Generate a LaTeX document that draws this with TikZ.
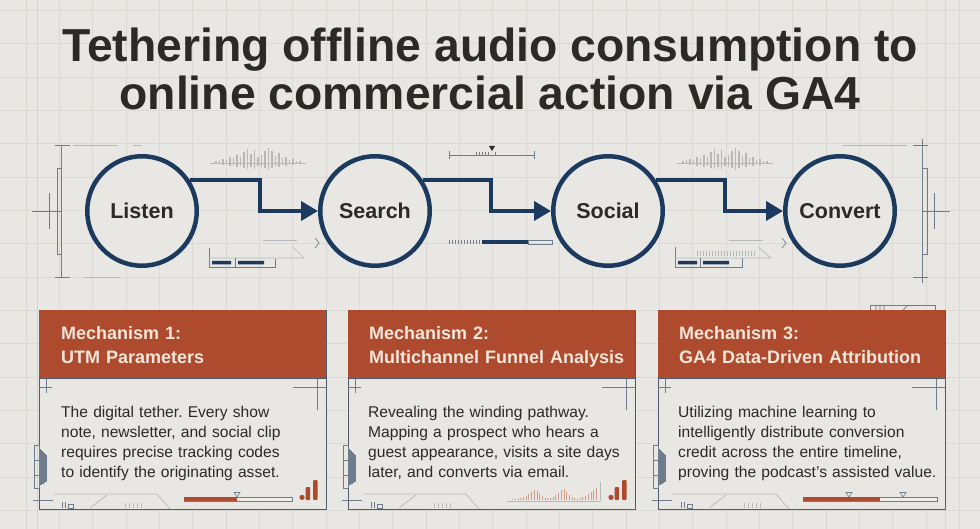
\documentclass[tikz,border=0pt]{standalone}
\usepackage{fontspec}
\setmainfont{Liberation Sans}
\usetikzlibrary{arrows.meta,calc}
\frenchspacing
\definecolor{bg}{HTML}{E8E7E3}
\definecolor{gridc}{HTML}{DAD9D4}
\definecolor{navy}{HTML}{1C3A5E}
\definecolor{ink}{HTML}{2B2A27}
\definecolor{rust}{HTML}{AE4A2D}
\definecolor{headink}{HTML}{F4E6DA}
\definecolor{cardline}{HTML}{4F5B6B}
\definecolor{decoc}{HTML}{6E7C8C}
\definecolor{decol}{HTML}{B4B9BE}
\definecolor{wavec}{HTML}{B7B7B4}
\definecolor{rustlight}{HTML}{D39A86}
\tikzset{
  gridline/.style={draw=gridc, line width=0.6pt},
  deco/.style={draw=decoc, line width=0.7pt},
  decofaint/.style={draw=decol, line width=0.7pt},
  wavebar/.style={draw=wavec, line width=1.3pt},
  stage/.style={circle, draw=navy, line width=4.5pt, fill=bg, minimum size=109.5pt,
    inner sep=0pt, font=\bfseries\fontsize{21.5}{24}\selectfont, text=ink},
  flow/.style={draw=navy, line width=4pt, -{Triangle[length=17pt,width=19pt]}},
  cardbox/.style={draw=cardline, line width=0.9pt, fill=bg, minimum width=287pt,
    minimum height=199pt, inner sep=0pt, anchor=north west},
  cardhead/.style={fill=rust, minimum width=287pt, minimum height=68pt, inner sep=0pt,
    anchor=north west},
  headtxt/.style={anchor=base west, inner sep=0pt, text width=275pt, align=left,
    text=headink, font=\bfseries\fontsize{18}{23.5}\selectfont},
  bodytxt/.style={anchor=base west, inner sep=0pt, text width=275pt, align=left,
    text=ink, font=\fontsize{15.6}{20}\selectfont},
  titletxt/.style={anchor=base, inner sep=0pt, text=ink,
    font=\bfseries\fontsize{46.3}{50}\selectfont},
  carddeco/.pic={
    % inner crosshairs
    \draw[deco] (0,77) -- (13,77) (7,69) -- (7,83);
    \draw[deco] (254,77) -- (287,77) (278,69) -- (278,100);
    % left bracket with hatch
    \draw[deco] (-5,135) rectangle (0,178);
    \draw[deco] (-5,150) -- (0,150) (-5,165) -- (0,165);
    \foreach \i in {1,...,7} \draw[decoc, line width=0.5pt] (\i,{138+\i}) -- (\i,{176-\i*0.6});
    % bottom-left crosshair and doodles
    \draw[deco] (-6,190) -- (14,190);
    \draw[decofaint] (15,184) -- (118,184) -- (131,199);
    \draw[decofaint] (51,198) -- (68,185);
    \draw[deco] (23,192) -- (23,198) (26,192) -- (26,198) (29,194) rectangle (34,198);
    \foreach \x in {86,90,94,98,102} \draw[decofaint] (\x,193) -- (\x,198);
  },
  baricon/.pic={
    \fill[rust] (0,-2.6) circle (2.6);
    \fill[rust, rounded corners=1pt] (3.5,-13) rectangle (8,0);
    \fill[rust, rounded corners=1pt] (11,-20) rectangle (15.5,0);
  },
  wave/.pic={
    \draw[decofaint] (-48,0) -- (48,0);
    \foreach \h [count=\i] in {2,3,4,3,6,5,8,6,11,14,9,13,6,8,12,15,12,7,10,5,6,3,4,2,2}
      \draw[wavebar] ({-45.5+\i*3.5},{-\h}) -- ({-45.5+\i*3.5},{0.45*\h});
  },
}
\begin{document}
\begin{tikzpicture}[x=1pt,y=-1pt]
\fill[bg] (0,0) rectangle (980,529);
\useasboundingbox (0,0) rectangle (980,529);
% background grid
\foreach \k in {0,...,29} \draw[gridline] ({26+33.33*\k},0) -- ({26+33.33*\k},529);
\foreach \k in {0,...,15} \draw[gridline] (0,{10.3+33.33*\k}) -- (980,{10.3+33.33*\k});
\draw[gridc!85!black!60, line width=0.6pt] (37,0) -- (37,529) (945,0) -- (945,529);

% title
\node[titletxt] (t1) at (490,62) {Tethering offline audio consumption to};
\node[titletxt] (t2) at (490,110) {online commercial action via GA4};

% flow decorations: left assembly
\draw[deco] (61,145) -- (61,277) (55,145) -- (70,145) (55,277) -- (70,277);
\draw[deco] (57,168) rectangle (61,254);
\draw[deco] (32,211) -- (62,211) (49,193) -- (49,229);
\draw[decofaint] (73,145) -- (118,145) (133,145) -- (142,145) (84,277) -- (120,277);
% right assembly
\draw[deco] (922,139) -- (922,283) (913,145) -- (928,145) (913,277) -- (928,277);
\draw[deco] (922,168) rectangle (927,254);
\draw[deco] (922,211) -- (950,211) (934,193) -- (934,229);
\draw[decofaint] (842,145) -- (907,145);
% waveforms
\pic at (258,163) {wave};
\pic at (725,163) {wave};
% below Listen -> Search
\draw[deco] (209,248) -- (209,267) -- (275,267) -- (275,259);
\draw[decofaint] (209,258) -- (304,258) -- (293,247);
\draw[deco] (235,258) -- (235,267);
\fill[navy] (212,261) rectangle (231,264.5) (238,261) rectangle (264,264.5);
\draw[decofaint] (263,240) -- (297,240);
\draw[deco] (315,238) -- (319,243) -- (315,248);
% ruler above Search -> Social
\draw[deco] (449,155) -- (534,155) (449,151) -- (449,159) (534,151) -- (534,159);
\foreach \x in {476,479,482,485,488,495} \draw[deco] (\x,152) -- (\x,155);
\fill[ink] (489,146) -- (495,146) -- (492,151) -- cycle;
% bar below Search -> Social
\foreach \x in {449,452,...,479} \draw[decoc, line width=0.5pt] (\x,240) -- (\x,244);
\fill[navy] (482,240) rectangle (528,244);
\draw[deco] (528,240) rectangle (552,244);
% below Social -> Convert
\draw[deco] (675,247) -- (675,267) -- (742,267) -- (742,258);
\draw[decofaint] (675,258) -- (771,258) -- (758,247);
\draw[deco] (700,258) -- (700,267);
\foreach \x in {697,700,...,754} \draw[decofaint] (\x,251) -- (\x,256);
\fill[navy] (678,261) rectangle (697,264.5) (703,261) rectangle (729,264.5);
\draw[decofaint] (729,240) -- (763,240);
\draw[deco] (782,238) -- (786,243) -- (782,248);

% stages
\node[stage] (L) at (142,211) {Listen};
\node[stage] (S) at (375,211) {Search};
\node[stage] (So) at (608,211) {Social};
\node[stage] (C) at (840,211) {Convert};
\coordinate (k1) at (260,211);
\coordinate (k2) at (491,211);
\coordinate (k3) at (725,211);
\draw[flow] (L.33) -| (k1) -- (S.west);
\draw[flow] (S.33) -| (k2) -- (So.west);
\draw[flow] (So.33) -| (k3) -- (C.west);

% deco above card 3
\draw[deco] (870,310) -- (870,305) -- (935,305) -- (935,310);
\draw[deco] (876,305) -- (876,310) (880,305) -- (880,310) (884,305) -- (884,310) (903,310) -- (908,305);

% cards
\foreach \x in {39,348,658} {
  \node[cardbox] at (\x,310) {};
  \node[cardhead] at (\x,310) {};
  \draw[cardline, line width=0.9pt] (\x,378) -- ({\x+287},378);
  \pic at (\x,310) {carddeco};
}
\node[headtxt] (h1) at (61,340) {Mechanism 1:\\UTM Parameters};
\node[bodytxt] (b1) at (61,417) {The digital tether. Every show\\note, newsletter, and social clip\\requires precise tracking codes\\to identify the originating asset.};
\node[headtxt] (h2) at (369,340) {Mechanism 2:\\Multichannel Funnel Analysis};
\node[bodytxt] (b2) at (368,417) {Revealing the winding pathway.\\Mapping a prospect who hears a\\guest appearance, visits a site days\\later, and converts via email.};
\node[headtxt] (h3) at (679,340) {Mechanism 3:\\GA4 Data-Driven Attribution};
\node[bodytxt] (b3) at (678,417) {Utilizing machine learning to\\intelligently distribute conversion\\credit across the entire timeline,\\proving the podcast's assisted value.};

% card 1 progress + icon
\draw[decoc, line width=0.6pt, fill=bg!70!white] (184,497) rectangle (292,501);
\fill[rust] (184,497) rectangle (237,501);
\draw[decoc, line width=0.6pt, fill=bg] (234,492.5) -- (240,492.5) -- (237,497) -- cycle;
\pic at (302,500) {baricon};
% card 2 mini chart + icon
\draw[decofaint] (507,501) -- (600,501) (600,501) -- (600,482);
\foreach \h [count=\i] in {1,1.5,2,2,3,4,6,8,10,9,6,4,2.5,2,2,3,5,7,10,11,8,5,3,2,1.5,2,3,4,6,8,10,12}
  \draw[rustlight, line width=0.9pt] ({510+\i*2.7},500) -- ({510+\i*2.7},{500-\h});
\pic at (611,500) {baricon};
% card 3 progress
\draw[decoc, line width=0.6pt, fill=bg!70!white] (803,497) rectangle (937,501);
\fill[rust] (803,497) rectangle (880,501);
\draw[decoc, line width=0.6pt, fill=bg] (846,492.5) -- (852,492.5) -- (849,497) -- cycle;
\draw[decoc, line width=0.6pt, fill=bg] (900,492.5) -- (906,492.5) -- (903,497) -- cycle;
\end{tikzpicture}
\end{document}
